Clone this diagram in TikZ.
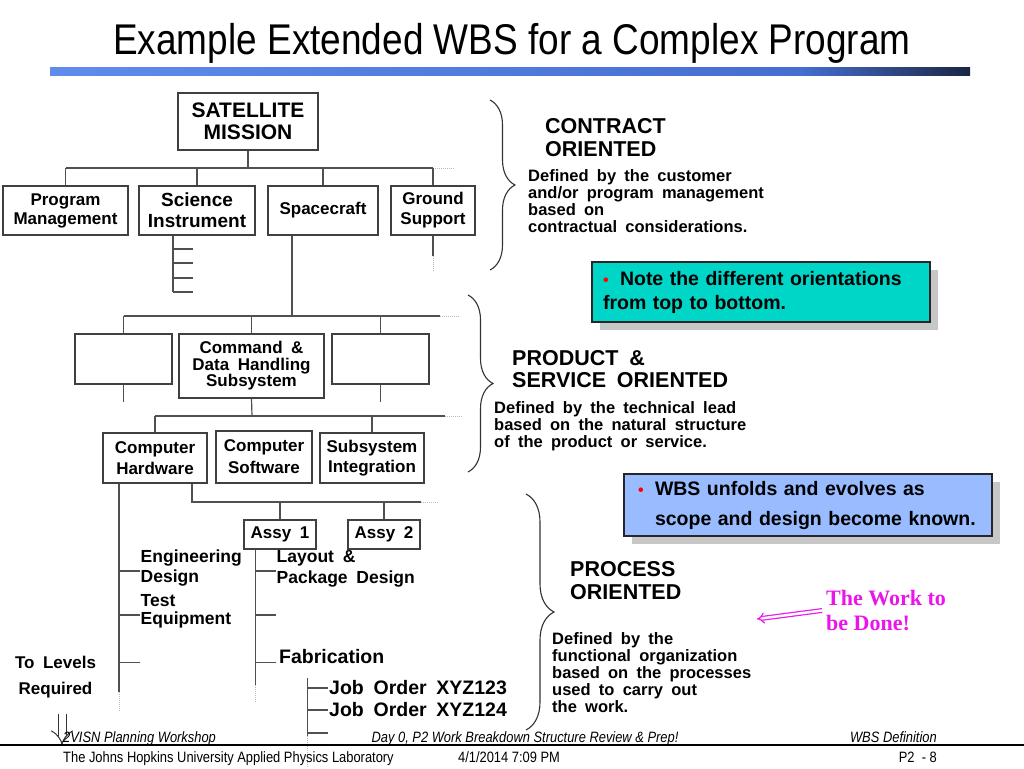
\documentclass[tikz,border=0pt]{standalone}
\usepackage{fontspec}
\setmainfont{Liberation Sans}
\newfontfamily\narrowfont[FakeStretch=0.86]{Liberation Sans}
\newfontfamily\timesfont{Liberation Serif}
\usetikzlibrary{arrows.meta,decorations.pathreplacing,shadows}

\definecolor{linegray}{RGB}{80,80,80}
\definecolor{notecyan}{RGB}{0,214,200}
\definecolor{noteblue}{RGB}{153,187,255}
\definecolor{workpink}{RGB}{235,20,235}
\definecolor{barlight}{RGB}{95,140,235}
\definecolor{barmid}{RGB}{70,110,210}
\definecolor{bardark}{RGB}{28,38,68}
\newcommand\widesp{\spaceskip=0.5em\relax}

\begin{document}
\begin{tikzpicture}[x=1pt, y=-1pt,
  wbsbox/.style={draw=black!75, line width=1.2pt, align=center, inner sep=0pt, font=\fontsize{17}{20}\selectfont\bfseries\widesp},
  link/.style={linegray, line width=1.2pt},
  more/.style={gray!55, densely dotted, line width=1pt},
  item/.style={anchor=west, align=left, inner sep=0pt, font=\fontsize{17.5}{19.5}\selectfont\bfseries\widesp},
  bigitem/.style={item, font=\fontsize{19.5}{21}\selectfont\bfseries\widesp},
  heading/.style={anchor=west, align=left, inner sep=0pt, font=\fontsize{21.5}{23.5}\selectfont\bfseries\widesp},
  defn/.style={anchor=west, align=left, inner sep=0pt, font=\fontsize{16.5}{17}\selectfont\bfseries\widesp},
  curly/.style={decorate, decoration={brace, amplitude=25pt}, black!80, line width=1.1pt},
  note/.style={draw=black!85, line width=1.2pt, align=left, inner ysep=0pt, font=\fontsize{19.5}{24}\selectfont\bfseries, drop shadow={shadow xshift=8pt, shadow yshift=-8pt, fill=black!22, opacity=1}},
  footer/.style={inner sep=0pt, font=\narrowfont\fontsize{15}{17}\selectfont}]
\useasboundingbox (0,0) rectangle (1024,768);
\fill[white] (0,0) rectangle (1024,768);

\node[anchor=base, inner sep=0pt, font=\narrowfont\fontsize{43}{45}\selectfont] (title) at (512,55) {Example Extended WBS for a Complex Program};
\shade[left color=barlight, right color=barmid] (50,67) rectangle (800,75);
\shade[left color=barmid, right color=bardark] (800,67) rectangle (970,75);

\node[wbsbox, font=\fontsize{21}{22}\selectfont\bfseries, minimum width=140pt, minimum height=57pt] (mission) at (248,121.5) {SATELLITE\\MISSION};
\node[wbsbox, font=\fontsize{17}{19}\selectfont\bfseries, minimum width=125pt, minimum height=49pt] (progmgmt) at (65.5,210.5) {Program\\Management};
\node[wbsbox, font=\fontsize{19}{21}\selectfont\bfseries, minimum width=116pt, minimum height=49pt] (science) at (197,210.5) {Science\\Instrument};
\node[wbsbox, minimum width=110pt, minimum height=49pt] (spacecraft) at (323,210.5) {Spacecraft};
\node[wbsbox, minimum width=84pt, minimum height=49pt] (ground) at (433,210.5) {Ground\\Support};

\node[wbsbox, minimum width=97pt, minimum height=50pt] (boxa) at (123.5,359) {};
\node[wbsbox, font=\fontsize{17}{16.5}\selectfont\bfseries\widesp, minimum width=145pt, minimum height=64pt] (cdh) at (251.5,366) {Command \&\\Data Handling\\Subsystem};
\node[wbsbox, minimum width=97pt, minimum height=50pt] (boxc) at (380.5,359) {};

\node[wbsbox, font=\fontsize{17}{21}\selectfont\bfseries, minimum width=104pt, minimum height=50pt] (hardware) at (155,458) {Computer\\Hardware};
\node[wbsbox, font=\fontsize{17}{22}\selectfont\bfseries, minimum width=96pt, minimum height=52pt] (software) at (264,457) {Computer\\Software};
\node[wbsbox, font=\fontsize{17}{20}\selectfont\bfseries, minimum width=104pt, minimum height=50pt] (integration) at (372,458) {Subsystem\\Integration};

\node[wbsbox, minimum width=72pt, minimum height=29pt] (assya) at (280,534.5) {Assy 1};
\node[wbsbox, minimum width=72pt, minimum height=29pt] (assyb) at (384,534.5) {Assy 2};

\node[item] (engdesign) at (140.5,568) {Engineering\\Design};
\node[item, font=\fontsize{17.5}{18}\selectfont\bfseries] (testeq) at (140.5,611) {Test\\Equipment};
\node[item, font=\fontsize{17.5}{21}\selectfont\bfseries\widesp] (layout) at (276.5,569) {Layout \&\\Package Design};
\node[bigitem] (fabrication) at (279,657) {Fabrication};
\node[bigitem] (joba) at (329,688) {Job Order XYZ123};
\node[bigitem] (jobb) at (329,710) {Job Order XYZ124};
\node[item, anchor=center, align=center, font=\fontsize{17}{26}\selectfont\bfseries\widesp] (levels) at (55.5,677) {To Levels\\Required};

\coordinate (bus1) at (248,168);
\draw[link] (mission.south) -- (bus1);
\draw[link] (progmgmt.north |- bus1) -- (ground.north |- bus1);
\draw[more] (ground.north |- bus1) -- ++(22,0);
\foreach \n in {progmgmt,science,spacecraft,ground} \draw[link] (\n.north) -- (\n.north |- bus1);
\coordinate (sciline) at (173,292);
\draw[link] (science.south -| sciline) -- (sciline);
\foreach \y in {249,263,278,292} \draw[link] (173,\y) -- ++(20,0);
\draw[link] (ground.south) -- ++(0,20);
\draw[more] (ground.south) ++(0,20) -- ++(0,15);

\coordinate (bus2) at (292,316); \coordinate (bus2end) at (440,316);
\draw[link] (spacecraft.south -| bus2) -- (bus2);
\draw[link] (boxa.north |- bus2) -- (bus2end);
\draw[more] (bus2end) -- ++(20,0);
\foreach \n in {boxa,cdh,boxc} \draw[link] (\n.north) -- (\n.north |- bus2);
\draw[link] (boxa.south) -- ++(0,17); \draw[link] (boxc.south) -- ++(0,17);

\coordinate (bus3) at (252,416); \coordinate (bus3end) at (445,416);
\draw[link] (cdh.south) -- (bus3);
\draw[link] (hardware.north |- bus3) -- (bus3end);
\draw[more] (bus3end) -- ++(18,0);
\foreach \n in {hardware,integration} \draw[link] (\n.north) -- (\n.north |- bus3);

\coordinate (hwline) at (119,692);
\draw[link] (hardware.south -| hwline) -- (hwline);
\draw[more] (hwline) -- ++(0,19);
\foreach \y in {571,615,662.5} \draw[link] (119,\y) -- ++(20.5,0);
\coordinate (bus4) at (192,502); \coordinate (bus4end) at (421,502);
\draw[link] (hardware.south -| bus4) -- (bus4) -- (bus4end);
\draw[more] (bus4end) -- ++(18,0);
\foreach \n in {assya,assyb} \draw[link] (\n.north) -- (\n.north |- bus4);

\coordinate (asline) at (255.5,685);
\draw[link] (assya.south -| asline) -- (asline);
\draw[more] (asline) -- ++(0,17);
\foreach \y in {571,615,662.5} \draw[link] (255.5,\y) -- ++(20,0);
\coordinate (fabtop) at (307.5,678); \coordinate (fabline) at (307.5,736);
\draw[link] (fabtop) -- (fabline);
\draw[more] (fabline) -- ++(0,32);
\foreach \y in {688,710,733} \draw[link] (307.5,\y) -- ++(20.5,0);

\coordinate (levtop) at (62,714); \coordinate (levtip) at (62,745);
\draw[black!80, double=white, double distance=7pt, line width=1pt, -{Implies}] (levtop) -- (levtip);

\draw[curly] (490,100) -- (490,270);
\draw[curly] (468,295) -- (468,472);
\draw[curly, decoration={brace, amplitude=28pt}] (526,494) -- (526,730);

\node[heading] (contract) at (545,137.5) {CONTRACT\\ORIENTED};
\node[defn] (contractdef) at (528,201.5) {Defined by the customer\\and/or program management\\based on\\contractual considerations.};
\node[heading, font=\fontsize{21.5}{22}\selectfont\bfseries\widesp] (product) at (512,369) {PRODUCT \&\\SERVICE ORIENTED};
\node[defn] (productdef) at (494,426.5) {Defined by the technical lead\\based on the natural structure\\of the product or service.};
\node[heading] (process) at (570,580.5) {PROCESS\\ORIENTED};
\node[defn] (processdef) at (552,672.5) {Defined by the\\functional organization\\based on the processes\\used to carry out\\the work.};

\node[note, fill=notecyan, text width=316pt, inner xsep=11pt, minimum height=60pt] (orient) at (761,292) {\makebox[17pt][l]{\fontsize{16}{16}\selectfont\textcolor{red}{\textbullet}}Note the different orientations\\from top to bottom.};
\node[note, fill=noteblue, text width=340pt, inner xsep=14pt, minimum height=62pt, font=\fontsize{19.5}{30}\selectfont\bfseries] (unfold) at (808,505) {\makebox[17pt][l]{\fontsize{16}{16}\selectfont\textcolor{red}{\textbullet}}WBS unfolds and evolves as\\\hspace*{17pt}scope and design become known.};

\node[anchor=west, align=left, inner sep=0pt, font=\timesfont\bfseries\fontsize{22}{25}\selectfont, text=workpink] (work) at (826,610.5) {The Work to\\be Done!};
\coordinate (worktip) at (757,619);
\draw[workpink, double=white, double distance=2.5pt, line width=1.2pt, -{Implies}] ([xshift=-4pt]work.west) -- (worktip);

\node[footer, anchor=base west] (workshop) at (63,742) {\itshape 2VISN Planning Workshop};
\node[footer, anchor=base] (review) at (525,742) {\itshape Day 0, P2 Work Breakdown Structure Review \& Prep!};
\node[footer, anchor=base east] (wbsdef) at (937,742) {\itshape WBS Definition};
\draw[black, line width=1.5pt] (0,745) -- (1024,745);
\node[footer, anchor=base west] (jhu) at (63,762) {The Johns Hopkins University Applied Physics Laboratory};
\node[footer, anchor=base] (date) at (509,762) {4/1/2014 7:09 PM};
\node[footer, anchor=base east] (page) at (937,762) {P2\ \ - 8};
\end{tikzpicture}
\end{document}
